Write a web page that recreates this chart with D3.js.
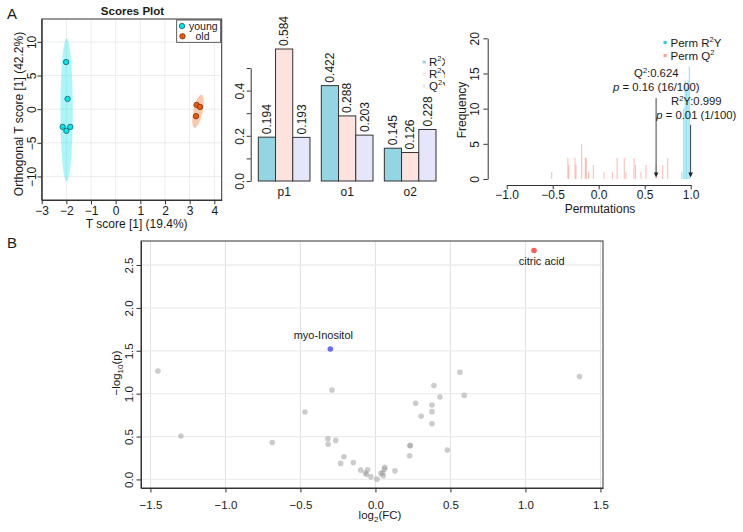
<!DOCTYPE html>
<html>
<head>
<meta charset="utf-8">
<script src="https://cdn.jsdelivr.net/npm/d3@7"></script>
<style>
body { margin: 0; background: #fff; }
text { font-family: "Liberation Sans", Arial, Helvetica, sans-serif; fill: #1a1a1a; }
</style>
</head>
<body>
<svg id="fig" width="743" height="532"></svg>
<script>
// ---------- data ----------
// scores plot
const youngT = [-2.01, -1.95, -2.15, -2.0, -1.84];
const youngO = [7.0, 1.53, -2.63, -3.22, -2.63];
const oldT = [3.28, 3.42, 3.26];
const oldO = [0.64, 0.34, -1.04];
const ellGroup = ["young", "old"];
const ellCx = [-1.99, 3.34];
const ellCy = [-0.1, -0.3];
const ellRx = [0.25, 0.19];
const ellRy = [10.65, 2.5];
const ellTilt = [0, 12];
const scoreXTicks = [-3, -2, -1, 0, 1, 2, 3, 4];
const scoreYTicks = [-10, -5, 0, 5, 10];

// model overview bars
const compNames = ["p1", "o1", "o2"];
const r2x = [0.194, 0.422, 0.145];
const r2y = [0.584, 0.288, 0.126];
const q2y = [0.193, 0.203, 0.228];
const barYTicks = [0, 0.1, 0.2, 0.3, 0.4, 0.5];
const barYLabels = [0, 0.2, 0.4];

// permutation histogram
const q2Bins = [-0.511, -0.335, -0.325, -0.258, -0.247, -0.185, -0.145, -0.135, -0.11, -0.058, 0.058, 0.148, 0.2, 0.278, 0.296, 0.384, 0.40, 0.46, 0.514, 0.623, 0.696, 0.75];
const q2Counts = [1, 3, 2, 3, 2, 5, 3, 3, 1, 2, 1, 1, 3, 3, 1, 3, 2, 1, 2, 2, 2, 3];
const r2yBins = [0.905, 0.925, 0.94, 0.955, 0.97, 0.985];
const r2yCounts = [1, 10, 14, 13, 14, 16];
const permXTicks = [-1, -0.5, 0, 0.5, 1];
const permYTicks = [0, 5, 10, 15, 20];
const obsName = ["Q2", "R2Y"];
const obsValue = [0.624, 0.999];
const obsP = ["0.16 (16/100)", "0.01 (1/100)"];
const arrowTop = [11.5, 7.7];

// volcano
const fc = [-1.45, -1.297, -0.688, -0.47, -0.29, -0.317, -0.315, -0.265, -0.21, -0.232, -0.148, -0.099, -0.068, -0.052, -0.059, -0.03, 0.01, 0.037, 0.048, 0.052, 0.059, 0.063, 0.13, 0.23, 0.232, 0.228, 0.268, 0.305, 0.377, 0.377, 0.377, 0.39, 0.43, 0.479, 0.563, 0.592, 1.361];
const logp = [1.265, 0.506, 0.43, 0.786, 1.043, 0.475, 0.41, 0.455, 0.264, 0.187, 0.198, 0.109, 0.077, 0.112, 0.058, 0.03, 0.003, 0.07, 0.077, 0.042, 0.12, 0.14, 0.1, 0.397, 0.393, 0.276, 0.888, 0.736, 0.868, 0.79, 0.65, 1.094, 0.961, 0.342, 1.25, 0.98, 1.2];
const sigNames = ["myo-Inositol", "citric acid"];
const sigFC = [-0.301, 1.057];
const sigP = [1.52, 2.67];
const sigColor = ["#6b6bff", "#ff5f5f"];
const volXTicks = [-1.5, -1, -0.5, 0, 0.5, 1, 1.5];
const volYTicks = [0, 0.5, 1, 1.5, 2, 2.5];

// ---------- helpers ----------
const svg = d3.select("#fig");
const fmt1 = d3.format(".1f");

function styleAxis(g, size) {
  g.selectAll("path, line").attr("stroke", "#333");
  g.selectAll("text").attr("fill", "#1a1a1a").style("font-size", size + "px")
    .style("font-family", '"Liberation Sans", Arial, sans-serif');
}
function rotY(g, off) {
  g.selectAll(".tick text").attr("transform", "rotate(-90)")
    .attr("x", 0).attr("y", -off).attr("dy", 0).attr("text-anchor", "middle");
}

// panel letters
svg.append("text").attr("x", 7).attr("y", 18.5).style("font-size", "15px").text("A");
svg.append("text").attr("x", 7).attr("y", 248).style("font-size", "15px").text("B");

// ---------- scores plot ----------
const sx = d3.scaleLinear().domain([-3, 4.3]).range([41.7, 221.7]);
const sy = d3.scaleLinear().domain([-13.5, 13.4]).range([200, 19]);
const sc = svg.append("g");

sc.selectAll("line.gx").data(scoreXTicks).join("line").attr("class", "gx")
  .attr("x1", d => sx(d)).attr("x2", d => sx(d)).attr("y1", 19).attr("y2", 200)
  .attr("stroke", "#ececec");
sc.selectAll("line.gy").data(scoreYTicks).join("line").attr("class", "gy")
  .attr("x1", 41.7).attr("x2", 221.7).attr("y1", d => sy(d)).attr("y2", d => sy(d))
  .attr("stroke", "#ececec");

const ellFill = { young: "#00e5ee", old: "#f07830" };
sc.selectAll("ellipse").data(ellGroup).join("ellipse")
  .attr("cx", (d, i) => sx(ellCx[i])).attr("cy", (d, i) => sy(ellCy[i]))
  .attr("rx", (d, i) => sx(ellCx[i] + ellRx[i]) - sx(ellCx[i]))
  .attr("ry", (d, i) => sy(ellCy[i]) - sy(ellCy[i] + ellRy[i]))
  .attr("transform", (d, i) => `rotate(${ellTilt[i]},${sx(ellCx[i])},${sy(ellCy[i])})`)
  .attr("fill", d => ellFill[d]).attr("opacity", (d) => d === "young" ? 0.33 : 0.4);

sc.selectAll("circle.young").data(youngT).join("circle").attr("class", "young")
  .attr("cx", d => sx(d)).attr("cy", (d, i) => sy(youngO[i])).attr("r", 2.7)
  .attr("fill", "#00e5ee").attr("stroke", "#1c5f63").attr("stroke-width", 0.8);
sc.selectAll("circle.old").data(oldT).join("circle").attr("class", "old")
  .attr("cx", d => sx(d)).attr("cy", (d, i) => sy(oldO[i])).attr("r", 2.7)
  .attr("fill", "#ea5a0c").attr("stroke", "#7a2e08").attr("stroke-width", 0.8);

sc.append("rect").attr("x", 41.7).attr("y", 19).attr("width", 180).attr("height", 181)
  .attr("fill", "none").attr("stroke", "#333");

const sxa = sc.append("g").attr("transform", "translate(0,200)")
  .call(d3.axisBottom(sx).tickValues(scoreXTicks).tickSize(4.3).tickPadding(2.2).tickSizeOuter(0));
styleAxis(sxa, 12);
const sya = sc.append("g").attr("transform", "translate(41.7,0)")
  .call(d3.axisLeft(sy).tickValues(scoreYTicks).tickSize(4.3).tickSizeOuter(0));
styleAxis(sya, 12); rotY(sya, 5.7);

sc.append("text").attr("x", 132.5).attr("y", 15).attr("text-anchor", "middle")
  .style("font-size", "11.5px").style("font-weight", "bold").text("Scores Plot");
sc.append("text").attr("transform", "translate(23,114) rotate(-90)").attr("text-anchor", "middle")
  .style("font-size", "12px").text("Orthogonal T score [1] (42.2%)");
sc.append("text").attr("x", 136.7).attr("y", 227.5).attr("text-anchor", "middle")
  .style("font-size", "12px").text("T score [1] (19.4%)");

// legend
const lg = sc.append("g");
lg.append("rect").attr("x", 176.7).attr("y", 20).attr("width", 44).attr("height", 22.3)
  .attr("fill", "#fff").attr("stroke", "#333").attr("stroke-width", 0.8);
lg.append("circle").attr("cx", 182).attr("cy", 26).attr("r", 2.7)
  .attr("fill", "#00e5ee").attr("stroke", "#1c5f63").attr("stroke-width", 0.8);
lg.append("circle").attr("cx", 182.5).attr("cy", 36.3).attr("r", 2.7)
  .attr("fill", "#ea5a0c").attr("stroke", "#7a2e08").attr("stroke-width", 0.8);
lg.append("text").attr("x", 203.3).attr("y", 29.6).attr("text-anchor", "middle").style("font-size", "10.5px").text("young");
lg.append("text").attr("x", 202.5).attr("y", 40.3).attr("text-anchor", "middle").style("font-size", "10.5px").text("old");

// ---------- model overview bars ----------
svg.append("clipPath").attr("id", "clipBar").append("rect")
  .attr("x", 226).attr("y", 0).attr("width", 219).attr("height", 215);
const bc = svg.append("g").attr("clip-path", "url(#clipBar)");
const bx = d3.scaleBand().domain(compNames).range([258.3, 436]).paddingInner(0.18).paddingOuter(0);
const metricNames = ["R2X", "R2Y", "Q2Y"];
const metricVals = [r2x, r2y, q2y];
const metricCol = ["#94d5e4", "#fde2de", "#e6e6fa"];
const bInner = d3.scaleBand().domain(metricNames).range([0, bx.bandwidth()]);
const by = d3.scaleLinear().domain([0, 0.5]).range([181, 68]);

compNames.forEach((c, ci) => {
  metricNames.forEach((m, mi) => {
    const v = metricVals[mi][ci];
    const x0 = bx(c) + bInner(m);
    bc.append("rect").attr("x", x0).attr("y", by(v)).attr("width", bInner.bandwidth())
      .attr("height", by(0) - by(v)).attr("fill", metricCol[mi]).attr("stroke", "#333").attr("stroke-width", 1);
    bc.append("text").attr("transform", `translate(${x0 + bInner.bandwidth() / 2 + 4.3},${by(v) - 3}) rotate(-90)`)
      .style("font-size", "12px").text(v.toFixed(3));
  });
  bc.append("text").attr("x", bx(c) + bx.bandwidth() / 2).attr("y", 195.7).attr("text-anchor", "middle")
    .style("font-size", "12px").text(c);
});
const bya = bc.append("g").attr("transform", "translate(250.7,0)")
  .call(d3.axisLeft(by).tickValues(barYTicks).tickSize(4).tickSizeOuter(0)
    .tickFormat(d => barYLabels.includes(d) ? d.toFixed(1) : ""));
styleAxis(bya, 12); rotY(bya, 6.7);

// legend (clipped by the next panel, as in the original)
metricNames.forEach((m, i) => {
  const yy = 62 + i * 12;
  bc.append("rect").attr("x", 422.7).attr("y", yy - 1.5).attr("width", 3).attr("height", 3).attr("fill", metricCol[i]);
  const t = bc.append("text").attr("x", 429).attr("y", yy + 4.3).style("font-size", "11.5px");
  t.append("tspan").text(m[0]);
  t.append("tspan").attr("dy", -5).style("font-size", "7.5px").text("2");
  t.append("tspan").attr("dy", 5).text(m.slice(2));
});

// ---------- permutation histogram ----------
const px = d3.scaleLinear().domain([-1, 1]).range([506.7, 690.7]);
const py = d3.scaleLinear().domain([0, 20]).range([179, 38.3]);
const pc = svg.append("g");
const binW = 0.012;

pc.selectAll("rect.q2").data(q2Bins).join("rect").attr("class", "q2")
  .attr("x", d => px(d) - (px(binW) - px(0)) / 2).attr("width", px(binW) - px(0))
  .attr("y", (d, i) => py(q2Counts[i])).attr("height", (d, i) => py(0) - py(q2Counts[i]))
  .attr("fill", "#fa8072").attr("opacity", 0.5);
pc.selectAll("rect.r2").data(r2yBins).join("rect").attr("class", "r2")
  .attr("x", d => px(d) - (px(binW) - px(0)) / 2).attr("width", px(binW) - px(0))
  .attr("y", (d, i) => py(r2yCounts[i])).attr("height", (d, i) => py(0) - py(r2yCounts[i]))
  .attr("fill", "#00bfe6").attr("opacity", 0.45);

const pxa = pc.append("g").attr("transform", "translate(0,185)")
  .call(d3.axisBottom(px).tickValues(permXTicks).tickSize(4.3).tickPadding(1.5).tickSizeOuter(0).tickFormat(fmt1));
styleAxis(pxa, 12);
const pya = pc.append("g").attr("transform", "translate(487.7,0)")
  .call(d3.axisLeft(py).tickValues(permYTicks).tickSize(4.3).tickSizeOuter(0));
styleAxis(pya, 12); rotY(pya, 8.7);

pc.append("text").attr("x", 600).attr("y", 212.5).attr("text-anchor", "middle").style("font-size", "12px").text("Permutations");
pc.append("text").attr("transform", "translate(466,110) rotate(-90)").attr("text-anchor", "middle")
  .style("font-size", "12px").text("Frequency");

// arrows and annotations
const annX = [656.3, 696.3];
const annY = [77, 105];
obsValue.forEach((v, i) => {
  const xa = px(v);
  pc.append("line").attr("x1", xa).attr("x2", xa).attr("y1", py(arrowTop[i])).attr("y2", py(0) - 6)
    .attr("stroke", "#444").attr("stroke-width", 1);
  pc.append("path").attr("d", `M${xa - 2.3},${py(0) - 6.5}L${xa + 2.3},${py(0) - 6.5}L${xa},${py(0) - 1.5}Z`).attr("fill", "#222");
  const t = pc.append("text").attr("x", annX[i]).attr("y", annY[i]).attr("text-anchor", "middle").style("font-size", "11.3px");
  t.append("tspan").text(obsName[i][0]);
  t.append("tspan").attr("dy", -4.5).style("font-size", "7.5px").text("2");
  t.append("tspan").attr("dy", 4.5).text(obsName[i].slice(2) + ":" + v.toFixed(3));
  const t2 = pc.append("text").attr("x", annX[i]).attr("y", annY[i] + 14).attr("text-anchor", "middle").style("font-size", "11.3px");
  t2.append("tspan").style("font-style", "italic").text("p");
  t2.append("tspan").text(" = " + obsP[i]);
});

// legend
const permLegName = ["R2Y", "Q2"];
const permLegCol = ["#3fc8e4", "#f6a496"];
permLegName.forEach((m, i) => {
  const yy = 42.5 + i * 13;
  pc.append("rect").attr("x", 663.5).attr("y", yy - 1.6).attr("width", 3.2).attr("height", 3.2).attr("fill", permLegCol[i]);
  const t = pc.append("text").attr("x", 670.5).attr("y", yy + 4).style("font-size", "11.5px");
  t.append("tspan").text("Perm " + m[0]);
  t.append("tspan").attr("dy", -5).style("font-size", "7.5px").text("2");
  t.append("tspan").attr("dy", 5).text(m.slice(2));
});

// ---------- volcano ----------
const vx = d3.scaleLinear().domain([-1.563, 1.517]).range([141, 603]);
const vy = d3.scaleLinear().domain([-0.1, 2.78]).range([488, 241]);
const vc = svg.append("g");

vc.selectAll("line.vg").data(volXTicks).join("line").attr("class", "vg")
  .attr("x1", d => vx(d)).attr("x2", d => vx(d)).attr("y1", 241).attr("y2", 488)
  .attr("stroke", "#dcdcdc").attr("stroke-width", 0.9);
vc.selectAll("line.hg").data(volYTicks).join("line").attr("class", "hg")
  .attr("x1", 141).attr("x2", 603).attr("y1", d => vy(d)).attr("y2", d => vy(d))
  .attr("stroke", "#ececec").attr("stroke-width", 1.3);

vc.selectAll("circle.ns").data(fc).join("circle").attr("class", "ns")
  .attr("cx", d => vx(d)).attr("cy", (d, i) => vy(logp[i])).attr("r", 2.8)
  .attr("fill", "#9a9a9a").attr("opacity", 0.5);
vc.selectAll("circle.sig").data(sigFC).join("circle").attr("class", "sig")
  .attr("cx", d => vx(d)).attr("cy", (d, i) => vy(sigP[i])).attr("r", 2.8)
  .attr("fill", (d, i) => sigColor[i]);
const labDx = [-7, 7.7];
const labDy = [-10, 14.3];
vc.selectAll("text.sig").data(sigNames).join("text").attr("class", "sig")
  .attr("x", (d, i) => vx(sigFC[i]) + labDx[i]).attr("y", (d, i) => vy(sigP[i]) + labDy[i])
  .attr("text-anchor", "middle").style("font-size", "11px").text(d => d);

vc.append("rect").attr("x", 141).attr("y", 241).attr("width", 462).attr("height", 247)
  .attr("fill", "none").attr("stroke", "#333");
const vxa = vc.append("g").attr("transform", "translate(0,488)")
  .call(d3.axisBottom(vx).tickValues(volXTicks).tickSize(4.5).tickPadding(8).tickSizeOuter(0).tickFormat(fmt1));
styleAxis(vxa, 11.5);
const vya = vc.append("g").attr("transform", "translate(141,0)")
  .call(d3.axisLeft(vy).tickValues(volYTicks).tickSize(4.5).tickSizeOuter(0).tickFormat(fmt1));
styleAxis(vya, 11.5); rotY(vya, 7.7);

const xl = vc.append("text").attr("x", 380).attr("y", 519).attr("text-anchor", "middle").style("font-size", "11.5px");
xl.append("tspan").text("log");
xl.append("tspan").attr("dy", 3).style("font-size", "8px").text("2");
xl.append("tspan").attr("dy", -3).text("(FC)");
const yl = vc.append("text").attr("transform", "translate(120,373) rotate(-90)").attr("text-anchor", "middle").style("font-size", "11.5px");
yl.append("tspan").text("\u2212log");
yl.append("tspan").attr("dy", 3).style("font-size", "8px").text("10");
yl.append("tspan").attr("dy", -3).text("(p)");
</script>
</body>
</html>
